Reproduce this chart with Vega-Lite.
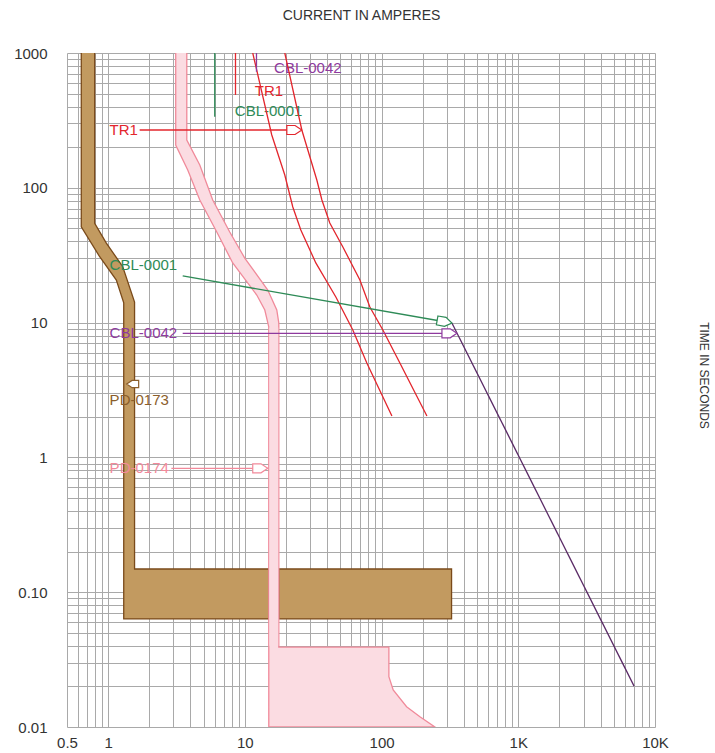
{
  "$schema": "https://vega.github.io/schema/vega-lite/v6.json",
  "width": 588,
  "height": 674,
  "autosize": {"type": "none"},
  "padding": {"left": 67, "top": 53, "right": 60, "bottom": 26},
  "background": "white",
  "config": {"view": {"stroke": null}, "font": "Liberation Sans"},
  "datasets": {
    "labels": [
      {"id": "tr", "text": "TR1", "x": 1.025, "y": 268.5},
      {"id": "cbl1", "text": "CBL-0001", "x": 1.025, "y": 26.8},
      {"id": "cbl42", "text": "CBL-0042", "x": 1.025, "y": 8.33},
      {"id": "pd173", "text": "PD-0173", "x": 1.025, "y": 2.67},
      {"id": "pd174", "text": "PD-0174", "x": 1.025, "y": 0.83},
      {"id": "cbl42", "text": "CBL-0042", "x": 16.36, "y": 770},
      {"id": "tr", "text": "TR1", "x": 11.82, "y": 524},
      {"id": "cbl1", "text": "CBL-0001", "x": 8.44, "y": 369}
    ],
    "bands": [
      {"band": "a173", "i": 0, "x": 0.636, "y": 1000},
      {"band": "a173", "i": 1, "x": 0.636, "y": 51.4},
      {"band": "a173", "i": 2, "x": 0.867, "y": 30.8},
      {"band": "a173", "i": 3, "x": 1.148, "y": 20.7},
      {"band": "a173", "i": 4, "x": 1.3, "y": 14.0},
      {"band": "a173", "i": 5, "x": 1.3, "y": 0.0633},
      {"band": "a173", "i": 6, "x": 14.96, "y": 0.0633},
      {"band": "a173", "i": 7, "x": 14.96, "y": 0.1486},
      {"band": "a173", "i": 8, "x": 1.56, "y": 0.1486},
      {"band": "a173", "i": 9, "x": 1.56, "y": 14.2},
      {"band": "a173", "i": 10, "x": 1.277, "y": 26.0},
      {"band": "a173", "i": 11, "x": 0.97, "y": 38.9},
      {"band": "a173", "i": 12, "x": 0.797, "y": 54.5},
      {"band": "a173", "i": 13, "x": 0.797, "y": 1000},
      {"band": "c173", "i": 0, "x": 17.71, "y": 0.0633},
      {"band": "c173", "i": 1, "x": 325, "y": 0.0633},
      {"band": "c173", "i": 2, "x": 325, "y": 0.1486},
      {"band": "c173", "i": 3, "x": 17.71, "y": 0.1486},
      {"band": "c173", "i": 4, "x": 17.71, "y": 0.0633},
      {"band": "b174", "i": 0, "x": 3.12, "y": 1000},
      {"band": "b174", "i": 1, "x": 3.12, "y": 207.7},
      {"band": "b174", "i": 2, "x": 3.82, "y": 135.5},
      {"band": "b174", "i": 3, "x": 4.68, "y": 81.2},
      {"band": "b174", "i": 4, "x": 6.23, "y": 47.0},
      {"band": "b174", "i": 5, "x": 8.15, "y": 27.7},
      {"band": "b174", "i": 6, "x": 12.22, "y": 16.02},
      {"band": "b174", "i": 7, "x": 13.99, "y": 12.4},
      {"band": "b174", "i": 8, "x": 14.96, "y": 9.28},
      {"band": "b174", "i": 9, "x": 14.96, "y": 0.01},
      {"band": "b174", "i": 10, "x": 245.6, "y": 0.01},
      {"band": "b174", "i": 11, "x": 190.8, "y": 0.01192},
      {"band": "b174", "i": 12, "x": 152.4, "y": 0.01414},
      {"band": "b174", "i": 13, "x": 121.6, "y": 0.01881},
      {"band": "b174", "i": 14, "x": 113.1, "y": 0.0236},
      {"band": "b174", "i": 15, "x": 113.1, "y": 0.0392},
      {"band": "b174", "i": 16, "x": 17.71, "y": 0.0392},
      {"band": "b174", "i": 17, "x": 17.71, "y": 9.93},
      {"band": "b174", "i": 18, "x": 17.12, "y": 12.4},
      {"band": "b174", "i": 19, "x": 14.71, "y": 17.45},
      {"band": "b174", "i": 20, "x": 9.98, "y": 30.1},
      {"band": "b174", "i": 21, "x": 7.75, "y": 47.0},
      {"band": "b174", "i": 22, "x": 5.82, "y": 81.2},
      {"band": "b174", "i": 23, "x": 4.68, "y": 147.5},
      {"band": "b174", "i": 24, "x": 3.76, "y": 226},
      {"band": "b174", "i": 25, "x": 3.76, "y": 1000}
    ],
    "crossing": [
      {"x": 15.1, "x2": 17.55, "y": 0.04, "y2": 9.2}
    ],
    "lines": [
      {"id": "tr", "seg": "trA", "i": 0, "x": 11.42, "y": 1000},
      {"id": "tr", "seg": "trA", "i": 1, "x": 15.73, "y": 246.5},
      {"id": "tr", "seg": "trA", "i": 2, "x": 19.59, "y": 124.5},
      {"id": "tr", "seg": "trA", "i": 3, "x": 22.42, "y": 72.0},
      {"id": "tr", "seg": "trA", "i": 4, "x": 25.66, "y": 48.6},
      {"id": "tr", "seg": "trA", "i": 5, "x": 33.04, "y": 27.7},
      {"id": "tr", "seg": "trA", "i": 6, "x": 46.3, "y": 15.49},
      {"id": "tr", "seg": "trA", "i": 7, "x": 61.6, "y": 8.81},
      {"id": "tr", "seg": "trA", "i": 8, "x": 78.0, "y": 5.01},
      {"id": "tr", "seg": "trA", "i": 9, "x": 119, "y": 2.03},
      {"id": "tr", "seg": "trB", "i": 0, "x": 19.59, "y": 1000},
      {"id": "tr", "seg": "trB", "i": 1, "x": 26.1, "y": 268.5},
      {"id": "tr", "seg": "trB", "i": 2, "x": 33.6, "y": 114.3},
      {"id": "tr", "seg": "trB", "i": 3, "x": 36.6, "y": 81.2},
      {"id": "tr", "seg": "trB", "i": 4, "x": 41.8, "y": 54.8},
      {"id": "tr", "seg": "trB", "i": 5, "x": 52.1, "y": 36.4},
      {"id": "tr", "seg": "trB", "i": 6, "x": 69.4, "y": 20.7},
      {"id": "tr", "seg": "trB", "i": 7, "x": 82.1, "y": 13.05},
      {"id": "tr", "seg": "trB", "i": 8, "x": 102.2, "y": 8.81},
      {"id": "tr", "seg": "trB", "i": 9, "x": 136.1, "y": 5.01},
      {"id": "tr", "seg": "trB", "i": 10, "x": 214.6, "y": 2.03},
      {"id": "tr", "seg": "trV", "i": 0, "x": 8.54, "y": 1000},
      {"id": "tr", "seg": "trV", "i": 1, "x": 8.54, "y": 488},
      {"id": "tr", "seg": "trArr", "i": 0, "x": 1.7, "y": 268.5},
      {"id": "tr", "seg": "trArr", "i": 1, "x": 26.1, "y": 268.5},
      {"id": "cbl1", "seg": "c1V", "i": 0, "x": 6.02, "y": 1000},
      {"id": "cbl1", "seg": "c1V", "i": 1, "x": 6.02, "y": 337},
      {"id": "cbl1", "seg": "c1Arr", "i": 0, "x": 3.51, "y": 22.2},
      {"id": "cbl1", "seg": "c1Arr", "i": 1, "x": 327, "y": 9.93},
      {"id": "cbl42", "seg": "c42V", "i": 0, "x": 12.16, "y": 1000},
      {"id": "cbl42", "seg": "c42V", "i": 1, "x": 12.16, "y": 726},
      {"id": "cbl42", "seg": "c42Arr", "i": 0, "x": 3.51, "y": 8.33},
      {"id": "cbl42", "seg": "c42Arr", "i": 1, "x": 355.8, "y": 8.33},
      {"id": "dmg", "seg": "dmg", "i": 0, "x": 327, "y": 9.93},
      {"id": "dmg", "seg": "dmg", "i": 1, "x": 7031, "y": 0.0201},
      {"id": "pd174", "seg": "p174Arr", "i": 0, "x": 2.9, "y": 0.83},
      {"id": "pd174", "seg": "p174Arr", "i": 1, "x": 14.7, "y": 0.83}
    ],
    "heads": [
      {"id": "tr", "x": 26.1, "y": 268.5},
      {"id": "cbl42", "x": 355.8, "y": 8.33},
      {"id": "pd174", "x": 14.7, "y": 0.83},
      {"id": "cbl1", "x": 327, "y": 9.93},
      {"id": "pd173", "x": 1.366, "y": 3.5}
    ]
  },
  "encoding": {
    "x": {
      "field": "x",
      "type": "quantitative",
      "scale": {"type": "log", "domain": [0.5, 10000], "nice": false, "zero": false},
      "axis": {
        "values": [0.5, 0.6, 0.7, 0.8, 0.9, 1, 2, 3, 4, 5, 6, 7, 8, 9, 10, 20, 30, 40, 50, 60, 70, 80, 90, 100, 200, 300, 400, 500, 600, 700, 800, 900, 1000, 2000, 3000, 4000, 5000, 6000, 7000, 8000, 9000, 10000],
        "labelExpr": "datum.value==0.5?'0.5':datum.value==1?'1':datum.value==10?'10':datum.value==100?'100':datum.value==1000?'1K':datum.value==10000?'10K':''",
        "grid": true,
        "gridColor": "#a9a9a9",
        "gridWidth": 1,
        "domain": false,
        "ticks": false,
        "tickSize": 0,
        "labelPadding": 8,
        "labelFontSize": 15,
        "labelColor": "#333333",
        "labelOverlap": false,
        "labelFlush": false,
        "labelBound": false,
        "title": "CURRENT IN AMPERES",
        "titleX": 294,
        "titleY": -712,
        "titleAlign": "center",
        "titleBaseline": "middle",
        "titleFontSize": 14,
        "titleFontWeight": "normal",
        "titleColor": "#333333"
      }
    },
    "y": {
      "field": "y",
      "type": "quantitative",
      "scale": {"type": "log", "domain": [0.01, 1000], "nice": false, "zero": false},
      "axis": {
        "values": [0.01, 0.02, 0.03, 0.04, 0.05, 0.06, 0.07, 0.08, 0.09, 0.1, 0.2, 0.3, 0.4, 0.5, 0.6, 0.7, 0.8, 0.9, 1, 2, 3, 4, 5, 6, 7, 8, 9, 10, 20, 30, 40, 50, 60, 70, 80, 90, 100, 200, 300, 400, 500, 600, 700, 800, 900, 1000],
        "labelExpr": "datum.value==1000?'1000':datum.value==100?'100':datum.value==10?'10':datum.value==1?'1':datum.value==0.1?'0.10':datum.value==0.01?'0.01':''",
        "grid": true,
        "gridColor": "#a9a9a9",
        "gridWidth": 1,
        "domain": false,
        "ticks": false,
        "tickSize": 0,
        "labelPadding": 20,
        "labelFontSize": 15,
        "labelColor": "#333333",
        "labelOverlap": false,
        "labelFlush": false,
        "labelBound": false,
        "title": "TIME IN SECONDS",
        "titleAngle": 90,
        "titleX": 636,
        "titleY": 322,
        "titleAlign": "center",
        "titleBaseline": "middle",
        "titleFontSize": 12,
        "titleFontWeight": "normal",
        "titleColor": "#333333"
      }
    }
  },
  "layer": [
    {
      "data": {"name": "bands"},
      "mark": {"type": "line", "strokeWidth": 1.3, "clip": true},
      "encoding": {
        "detail": {"field": "band", "type": "nominal"},
        "order": {"field": "i", "type": "quantitative"},
        "fill": {"field": "band", "type": "nominal", "legend": null, "scale": {"domain": ["a173", "c173", "b174"], "range": ["#c29a60", "#c29a60", "#fbdce2"]}},
        "stroke": {"field": "band", "type": "nominal", "legend": null, "scale": {"domain": ["a173", "c173", "b174"], "range": ["#7a4a1a", "#7a4a1a", "#f08a9a"]}}
      }
    },
    {
      "data": {"name": "crossing"},
      "mark": {"type": "rect", "fill": "#fbdce2", "strokeWidth": 0},
      "encoding": {
        "x2": {"field": "x2"},
        "y2": {"field": "y2"}
      }
    },
    {
      "data": {"name": "labels"},
      "mark": {"type": "text", "align": "left", "baseline": "middle", "fontSize": 15},
      "encoding": {
        "text": {"field": "text", "type": "nominal"},
        "color": {
          "field": "id", "type": "nominal", "legend": null,
          "scale": {"domain": ["tr", "cbl1", "cbl42", "dmg", "pd173", "pd174"], "range": ["#e3262d", "#2e8b57", "#8e3a9e", "#5a2a66", "#8b5e2b", "#f2899a"]}
        }
      }
    },
    {
      "data": {"name": "lines"},
      "mark": {"type": "line", "strokeWidth": 1.3, "clip": true},
      "encoding": {
        "detail": {"field": "seg", "type": "nominal"},
        "order": {"field": "i", "type": "quantitative"},
        "color": {"field": "id", "type": "nominal", "legend": null}
      }
    },
    {
      "data": {"name": "heads"},
      "transform": [{"filter": "datum.id=='tr' || datum.id=='cbl42' || datum.id=='pd174'"}],
      "mark": {"type": "point", "shape": "M -2 -0.6 L -0.9 -0.6 L 0 0 L -0.9 0.6 L -2 0.6 Z", "size": 225, "filled": false, "fill": "white", "opacity": 1, "strokeWidth": 1.2, "angle": 0},
      "encoding": {"color": {"field": "id", "type": "nominal", "legend": null}}
    },
    {
      "data": {"name": "heads"},
      "transform": [{"filter": "datum.id=='cbl1'"}],
      "mark": {"type": "point", "shape": "M -2 -0.6 L -0.9 -0.6 L 0 0 L -0.9 0.6 L -2 0.6 Z", "size": 225, "filled": false, "fill": "white", "opacity": 1, "strokeWidth": 1.2, "angle": 10},
      "encoding": {"color": {"field": "id", "type": "nominal", "legend": null}}
    },
    {
      "data": {"name": "heads"},
      "transform": [{"filter": "datum.id=='pd173'"}],
      "mark": {"type": "point", "shape": "M -2 -0.6 L -0.9 -0.6 L 0 0 L -0.9 0.6 L -2 0.6 Z", "size": 144, "filled": false, "fill": "white", "opacity": 1, "strokeWidth": 1.2, "angle": 180},
      "encoding": {"color": {"field": "id", "type": "nominal", "legend": null}}
    }
  ]
}
